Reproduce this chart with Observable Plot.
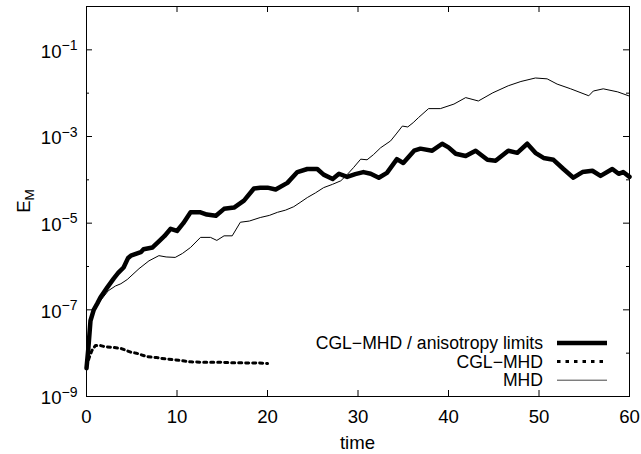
<!DOCTYPE html>
<html><head><meta charset="utf-8">
<script src="https://cdn.jsdelivr.net/npm/d3@7"></script>
<script src="https://cdn.jsdelivr.net/npm/@observablehq/plot@0.6"></script>
<style>body{margin:0;background:#fff} svg{display:block}</style>
</head><body><div id="chart"></div>
<script>
// ---- data ----
const seriesNames = ["CGL\u2212MHD / anisotropy limits", "CGL\u2212MHD", "MHD"];

const timeLimits = [0,0.2,0.44,0.8,1.2,1.55,2.3,3.0,3.5,4.1,4.6,4.9,6.0,6.3,7.3,8.0,8.6,9.3,10.0,10.7,11.5,12.6,13.3,14.3,15.2,16.3,17.4,18.5,19.2,20.0,20.9,22.2,23.3,24.4,25.5,26.2,27.2,27.9,28.8,29.7,30.6,31.4,32.3,33.2,34.3,35.0,36.2,36.9,38.2,39.3,40.0,40.8,41.9,43.0,44.3,45.2,46.6,47.6,48.7,49.6,50.5,51.6,52.7,53.8,54.8,55.9,56.8,58.1,58.8,59.3,60];
const emLimits = [4.5e-9,1.26e-8,5.6e-8,1.0e-7,1.41e-7,1.95e-7,3.3e-7,5.25e-7,7.1e-7,9.5e-7,1.58e-6,1.78e-6,2.14e-6,2.5e-6,2.75e-6,3.8e-6,5.0e-6,7.4e-6,6.6e-6,1.0e-5,1.78e-5,1.78e-5,1.58e-5,1.48e-5,2.14e-5,2.29e-5,3.3e-5,6.3e-5,6.6e-5,6.6e-5,6.0e-5,8.5e-5,1.51e-4,1.78e-4,1.78e-4,1.32e-4,1.05e-4,1.38e-4,1.17e-4,1.35e-4,1.51e-4,1.38e-4,1.12e-4,1.45e-4,3.0e-4,2.45e-4,4.7e-4,5.25e-4,4.7e-4,6.8e-4,5.6e-4,4.0e-4,3.55e-4,4.7e-4,2.9e-4,2.75e-4,4.7e-4,4.2e-4,6.8e-4,4.2e-4,3.2e-4,2.9e-4,1.78e-4,1.12e-4,1.51e-4,1.62e-4,1.23e-4,1.78e-4,1.38e-4,1.51e-4,1.17e-4];

const timeCGL = [0,0.3,0.6,1.0,1.5,2.0,3.0,3.8,4.9,5.5,6.7,7.8,8.2,9.5,10.4,11.5,12.6,14.0,14.8,16.0,17.0,18.0,19.0,20.0];
const emCGL = [5.0e-9,7.9e-9,1.15e-8,1.51e-8,1.51e-8,1.41e-8,1.35e-8,1.29e-8,1.05e-8,1.0e-8,8.3e-9,7.9e-9,7.6e-9,7.1e-9,6.8e-9,6.3e-9,6.2e-9,6.2e-9,6.2e-9,6.0e-9,6.0e-9,5.9e-9,6.0e-9,5.75e-9];

const timeMHD = [0,0.4,0.8,1.5,2.4,3.2,3.8,4.5,5.8,6.9,8.0,8.8,9.8,10.6,11.5,12.6,13.7,14.4,15.2,16.1,17.0,18.0,19.2,20.2,21.1,22.0,22.9,23.6,24.4,25.3,26.2,27.2,28.1,28.8,29.5,30.3,31.0,31.7,32.5,33.6,34.3,34.9,35.5,36.1,36.7,37.8,39.1,40.6,41.9,43.3,44.9,46.6,48.0,49.6,50.9,52.0,53.5,55.5,56.0,57.1,58.7,59.9];
const emMHD = [4.5e-9,5.0e-8,8.9e-8,1.58e-7,2.75e-7,3.55e-7,4.0e-7,5.0e-7,8.9e-7,1.35e-6,1.78e-6,1.66e-6,1.62e-6,2.0e-6,2.75e-6,4.7e-6,4.7e-6,4.0e-6,5.1e-6,5.1e-6,1.05e-5,1.12e-5,1.35e-5,1.51e-5,1.78e-5,2.0e-5,2.4e-5,3.0e-5,3.9e-5,5.0e-5,6.6e-5,7.9e-5,9.5e-5,1.32e-4,1.91e-4,3.0e-4,2.9e-4,3.8e-4,5.5e-4,7.9e-4,1.2e-3,1.74e-3,1.66e-3,2.09e-3,2.75e-3,4.4e-3,4.4e-3,5.6e-3,7.9e-3,6.6e-3,1.02e-2,1.48e-2,1.86e-2,2.24e-2,2.14e-2,1.62e-2,1.26e-2,8.7e-3,1.12e-2,1.26e-2,1.07e-2,8.7e-3];

const xTicks = [0,10,20,30,40,50,60];
const yMajorTicks = [1e-9,1e-7,1e-5,1e-3,1e-1];
const yMajorLabels = ["\u22129","\u22127","\u22125","\u22123","\u22121"];
const yMinorTicks = [1e-8,1e-6,1e-4,1e-2];
const xLabel = "time";
const yLabelMain = "E";
const yLabelSub = "M";

// ---- layout ----
const W = 641, H = 454;
const mL = 86, mR = 12, mT = 6, mB = 58;
const pw = W - mL - mR, ph = H - mT - mB;
const FONT = "'Liberation Sans', Arial, Helvetica, sans-serif";
const FS = 18.6;
const LFS = 17.6;

const rowsLimits = timeLimits.map((t, i) => ({t, v: emLimits[i]}));
const rowsCGL = timeCGL.map((t, i) => ({t, v: emCGL[i]}));
const rowsMHD = timeMHD.map((t, i) => ({t, v: emMHD[i]}));
const labelOf = new Map(yMajorTicks.map((d, i) => [d, "10^" + yMajorLabels[i]]));

const chart = Plot.plot({
  width: W, height: H,
  marginLeft: mL, marginRight: mR, marginTop: mT, marginBottom: mB,
  style: {fontFamily: FONT, fontSize: FS + "px", background: "#fff", color: "#000"},
  x: {domain: [0, 60]},
  y: {type: "log", domain: [1e-9, 1]},
  marks: [
    Plot.line(rowsMHD, {x: "t", y: "v", stroke: "#000", strokeWidth: 1}),
    Plot.line(rowsCGL, {x: "t", y: "v", stroke: "#000", strokeWidth: 3, strokeDasharray: "3,4"}),
    Plot.line(rowsLimits, {x: "t", y: "v", stroke: "#000", strokeWidth: 4.5, strokeLinejoin: "round"}),
    // inward tick marks on all four sides
    Plot.ruleY(yMajorTicks, {y: d => d, insetRight: pw - 6, stroke: "#000"}),
    Plot.ruleY(yMajorTicks, {y: d => d, insetLeft: pw - 6, stroke: "#000"}),
    Plot.ruleY(yMinorTicks, {y: d => d, insetRight: pw - 3, stroke: "#000"}),
    Plot.ruleY(yMinorTicks, {y: d => d, insetLeft: pw - 3, stroke: "#000"}),
    Plot.ruleX(xTicks, {x: d => d, insetTop: ph - 6, stroke: "#000"}),
    Plot.ruleX(xTicks, {x: d => d, insetBottom: ph - 6, stroke: "#000"}),
    Plot.axisX({ticks: xTicks, tickSize: 0, tickPadding: 13, label: null, tickFormat: d => String(d)}),
    Plot.axisY({ticks: yMajorTicks, tickSize: 0, tickPadding: 9, label: null, dy: 2, tickFormat: d => labelOf.get(d)}),
    Plot.frame({stroke: "#000", strokeWidth: 1})
  ]
});

// superscripts in y tick labels
d3.select(chart).selectAll('g[aria-label="y-axis tick label"] text').each(function() {
  const s = this.textContent;
  if (!s.includes("^")) return;
  const [base, exp] = s.split("^");
  const t = d3.select(this);
  t.text(null);
  t.append("tspan").text(base);
  t.append("tspan").attr("font-size", 14).attr("dy", "-0.55em").text(exp);
});

const svg = d3.select(chart);
// axis titles
svg.append("text").attr("x", mL + pw / 2).attr("y", 449).attr("text-anchor", "middle")
  .attr("font-family", FONT).attr("font-size", FS).attr("fill", "#000").text(xLabel);
const yl = svg.append("text").attr("transform", `translate(30,${mT + ph / 2}) rotate(-90)`)
  .attr("text-anchor", "middle").attr("font-family", FONT).attr("font-size", FS).attr("fill", "#000");
yl.append("tspan").text(yLabelMain);
yl.append("tspan").attr("font-size", 13.5).attr("dy", 4).text(yLabelSub);

// legend
const legendStyles = [
  {w: 4.5, dash: null, color: "#000"},
  {w: 3, dash: "3.5,5", color: "#000"},
  {w: 1, dash: null, color: "#444"}
];
const lg = svg.append("g").attr("font-family", FONT).attr("font-size", LFS);
seriesNames.forEach((name, i) => {
  const y = 343 + i * 18.6;
  lg.append("text").attr("x", 543).attr("y", y).attr("dy", "0.35em").attr("text-anchor", "end").attr("fill", "#000").text(name);
  lg.append("line").attr("x1", 557).attr("x2", 607).attr("y1", y).attr("y2", y)
    .attr("stroke", legendStyles[i].color).attr("stroke-width", legendStyles[i].w)
    .attr("stroke-dasharray", legendStyles[i].dash);
});

document.getElementById("chart").appendChild(chart);
</script>
</body></html>
